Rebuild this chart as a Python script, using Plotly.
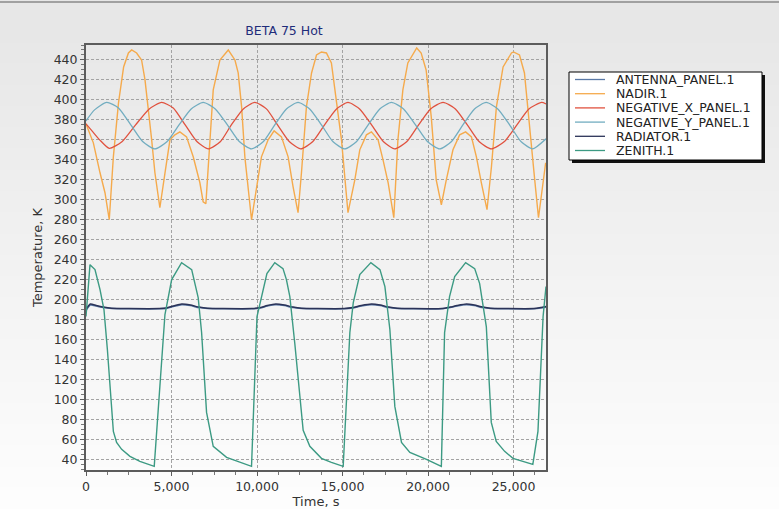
#! /usr/bin/env python
# -*- coding: utf-8 -*-

"""Temperature history of the BETA 75 hot case"""

import plotly.graph_objects as go


# data
# ***********************

T_NADIR = [0, 430, 820, 1110, 1360, 1600, 1900, 2200, 2480, 2670, 2960, 3250,
           3450, 3640, 3840, 4030, 4320, 4620, 4910, 5200, 5490, 5880, 6270,
           6660, 6850, 7010, 7250, 7440, 7830, 8320, 8710, 8900, 9100, 9290,
           9680, 9970, 10260, 10650, 11000, 11430, 11820, 12110, 12400, 12600,
           12890, 13190, 13480, 13770, 14060, 14350, 14550, 14940, 15320,
           15720, 16010, 16400, 16690, 17080, 17370, 17670, 18000, 18240,
           18530, 18820, 19340, 19600, 19890, 20190, 20480, 20780, 21070,
           21460, 21850, 22200, 22540, 22830, 23120, 23450, 23710, 24000,
           24390, 24880, 25000, 25350, 25640, 25940, 26240, 26460, 26880]
NADIR = [376, 357, 327, 307, 280, 343, 397, 433, 447, 450, 447, 440,
         420, 393, 360, 327, 292, 327, 360, 365, 368, 363, 343,
         317, 298, 296, 360, 410, 440, 450, 440, 427, 393, 343,
         280, 310, 343, 360, 369, 363, 343, 313, 287, 327,
         393, 427, 445, 448, 447, 437, 410, 360, 287,
         320, 350, 365, 368, 360, 340, 317, 282, 360,
         410, 437, 452, 447, 430, 383, 320, 295, 320,
         350, 365, 368, 363, 343, 317, 290, 333, 393,
         433, 447, 448, 445, 427, 377, 320, 282, 337]

T_NEG_X = [0, 400, 800, 1360, 2100, 2900, 3700, 4420, 5100, 5800, 6500,
           7150, 7850, 8500, 9200, 9870, 10550, 11200, 11900, 12560, 13250,
           13950, 14650, 15320, 16000, 16700, 17400, 18050, 18750, 19450,
           20150, 20880, 21600, 22300, 23000, 23700, 24450, 25200, 25900,
           26640, 26900]
NEG_X = [376, 368, 360, 351.5, 358, 375, 391, 397.5, 392, 375, 358,
         351, 358, 375, 391, 397.5, 391, 375, 358, 351, 358,
         375, 391, 397.5, 391, 375, 358, 351, 358, 375,
         391, 397.5, 391, 375, 358, 351, 358, 375, 391,
         397.5, 396]

T_NEG_Y = [0, 500, 1210, 1900, 2620, 3330, 4030, 4730, 5440, 6150, 6850,
           7560, 8270, 8980, 9680, 10360, 11040, 11720, 12400, 13080, 13770,
           14450, 15130, 15810, 16500, 17180, 17860, 18570, 19270, 19980,
           20680, 21360, 22040, 22720, 23400, 24080, 24770, 25450, 26130,
           26900]
NEG_Y = [379, 390, 397.5, 392, 375, 358, 351, 358, 375, 391, 397.5,
         391, 375, 358, 351, 358, 375, 391, 397.5, 391, 375,
         358, 351, 358, 375, 391, 397.5, 391, 375, 358,
         351, 358, 375, 391, 397.5, 391, 375, 358, 351,
         361]

T_ZENITH = [0, 234, 525, 820, 1050, 1250, 1600, 1790, 2085, 2570, 3150, 3990,
            4617, 5010, 5590, 6180, 6560, 6760, 7050, 7440, 8220, 9000, 9680,
            10000, 10290, 10580, 11040, 11520, 11720, 11920, 12210, 12700,
            13090, 13770, 14350, 15040, 15430, 15630, 16010, 16660, 17190,
            17480, 17770, 18060, 18450, 18940, 19910, 20780, 20970, 21260,
            21560, 22200, 22730, 23020, 23410, 23700, 23990, 24480, 24970,
            26130, 26430, 26730, 26900]
ZENITH = [183, 235, 230, 210, 190, 150, 68, 57, 50, 43, 38, 33,
          185, 220, 237, 230, 202, 167, 87, 53, 42, 37, 33,
          183, 206, 226, 237, 231, 220, 203, 156, 69,
          53, 41, 37, 33, 167, 197, 225, 237, 230,
          213, 170, 93, 57, 47, 40, 33, 167, 203,
          223, 237, 231, 216, 173, 77, 58, 48, 41,
          35, 68, 183, 213]

T_RADIATOR = [0, 250, 600, 1000, 1500, 2500, 4300, 4700, 5100, 5600, 6100,
              6600, 7100, 8000, 9700, 10200, 10600, 11100, 11600, 12100,
              12600, 13500, 15100, 15600, 16100, 16700, 17200, 17700, 18200,
              19000, 20800, 21300, 21700, 22250, 22700, 23200, 23650, 24500,
              26200, 26600, 26900]
RADIATOR = [190, 195.5, 194, 192.5, 191.3, 191, 191, 191.5, 193.5, 195.5, 194.5,
            192.5, 191.3, 191, 191, 192, 194, 195.5, 194.5, 192.5,
            191.3, 191, 191, 192, 194, 195.5, 194.5, 192.5, 191.3,
            191, 191, 192.5, 194, 195.5, 194.5, 192.5, 191.3, 191,
            191, 192, 193]
ANTENNA = [189, 194.5, 193.5, 192, 191, 190.8, 190.8, 191.2, 193, 194.8, 194,
           192, 191, 190.8, 190.8, 191.6, 193.5, 194.8, 194, 192,
           191, 190.8, 190.8, 191.6, 193.5, 194.8, 194, 192, 191,
           190.8, 190.8, 192, 193.5, 194.8, 194, 192, 191, 190.8,
           190.8, 191.6, 192.5]

Y_TICKS = list(range(40, 441, 20))
X_TICKS = [0, 5000, 10000, 15000, 20000, 25000]


# some constants
# **************

W, H = 779, 509
L, R, T, B = 86, 546, 45, 470  # plot area in pixels
FONT = 'DejaVu Sans, Verdana, sans-serif'
TEXT = '#333333'

# legend box, pixels
LEG_X0, LEG_X1, LEG_Y0, LEG_Y1 = 569, 762, 72, 160
LEG_ROW0, LEG_ROW_H = 79.5, 14.2


def px_x(p):
    """Pixel column to paper x."""
    return (p - L) / (R - L)


def px_y(p):
    """Pixel row to paper y."""
    return (B - p) / (B - T)


# traces
# ******

series = [
    ('ANTENNA_PANEL.1', T_RADIATOR, ANTENNA, '#5a79a6', 1.6, 'spline'),
    ('NADIR.1', T_NADIR, NADIR, '#f5aa4c', 1.4, 'linear'),
    ('NEGATIVE_X_PANEL.1', T_NEG_X, NEG_X, '#e0523f', 1.3, 'spline'),
    ('NEGATIVE_Y_PANEL.1', T_NEG_Y, NEG_Y, '#72adc0', 1.3, 'spline'),
    ('RADIATOR.1', T_RADIATOR, RADIATOR, '#2b3358', 1.5, 'spline'),
    ('ZENITH.1', T_ZENITH, ZENITH, '#3c9a83', 1.4, 'linear'),
]

fig = go.Figure()
for name, t, v, color, width, shape in series:
    fig.add_trace(go.Scatter(
        x=t, y=v, name=name, mode='lines', showlegend=False,
        line=dict(color=color, width=width, shape=shape, smoothing=0.6),
    ))


# background: vertical grey-to-white gradient + top rule
# ******************************************************

shapes = []
annotations = []
n_bands = 24
for i in range(n_bands):
    g = int(231 + (253 - 231) * i / (n_bands - 1))
    shapes.append(dict(
        type='rect', xref='paper', yref='paper', layer='below',
        x0=px_x(0), x1=px_x(W),
        y0=px_y(H * (i + 1) / n_bands + 1), y1=px_y(H * i / n_bands),
        fillcolor=f'rgb({g},{g},{g})', line=dict(width=0),
    ))
shapes.append(dict(
    type='line', xref='paper', yref='paper',
    x0=px_x(0), x1=px_x(W), y0=px_y(2), y1=px_y(2),
    line=dict(color='#8a8a8a', width=1.5),
))


# legend box with drop shadow, drawn by hand to get the tight rows
# ****************************************************************

shapes.append(dict(
    type='rect', xref='paper', yref='paper',
    x0=px_x(LEG_X0 + 3), x1=px_x(LEG_X1 + 3),
    y0=px_y(LEG_Y1 + 3), y1=px_y(LEG_Y0 + 3),
    fillcolor='#111111', line=dict(width=0),
))
shapes.append(dict(
    type='rect', xref='paper', yref='paper',
    x0=px_x(LEG_X0), x1=px_x(LEG_X1), y0=px_y(LEG_Y1), y1=px_y(LEG_Y0),
    fillcolor='#ffffff', line=dict(color='#000000', width=1),
))
for i, (name, _, _, color, _, _) in enumerate(series):
    yc = LEG_ROW0 + i * LEG_ROW_H
    shapes.append(dict(
        type='line', xref='paper', yref='paper',
        x0=px_x(575), x1=px_x(605), y0=px_y(yc), y1=px_y(yc),
        line=dict(color=color, width=1.3),
    ))
    annotations.append(dict(
        text=name, xref='paper', yref='paper', x=px_x(614), y=px_y(yc),
        xanchor='left', yanchor='middle', showarrow=False,
        font=dict(family=FONT, size=12.5, color='#222222'),
    ))

axis_common = dict(
    showline=True, linecolor='#5c5c5c', linewidth=2, mirror=True,
    showgrid=True, gridcolor='#a3a3a3', griddash='3px,2px', gridwidth=1,
    zeroline=False, ticks='outside', ticklen=4, tickcolor='#5c5c5c',
    tickfont=dict(family=FONT, size=12.5, color=TEXT),
)

fig.update_layout(
    width=W, height=H,
    margin=dict(l=L, r=W - R, t=T, b=H - B, autoexpand=False),
    paper_bgcolor='#ffffff',
    plot_bgcolor='rgba(0,0,0,0)',
    shapes=shapes,
    annotations=annotations,
    title=dict(
        text='BETA 75 Hot', x=284 / W, xanchor='center', xref='container',
        y=1 - 31 / H, yanchor='middle', yref='container',
        font=dict(family=FONT, size=12.5, color='#1f2d7a'),
    ),
    xaxis=dict(
        range=[0, 26900], tickvals=X_TICKS, tickformat=',d',
        minor=dict(dtick=1250, ticks='outside', ticklen=3,
                   tickcolor='#777777', showgrid=False),
        title=dict(text='Time, s', standoff=1,
                   font=dict(family=FONT, size=13, color=TEXT)),
        **axis_common,
    ),
    yaxis=dict(
        range=[29.3, 455], tickvals=Y_TICKS,
        minor=dict(dtick=5, ticks='outside', ticklen=3,
                   tickcolor='#777777', showgrid=False),
        title=dict(text='Temperature, K', standoff=8,
                   font=dict(family=FONT, size=13, color=TEXT)),
        **axis_common,
    ),
    showlegend=False,
)

# the page body has a default 8px margin; drop it so the figure sits at 0,0
fig.write_html('out.html', config={'displayModeBar': False},
               post_script="document.body.style.margin='0';")
